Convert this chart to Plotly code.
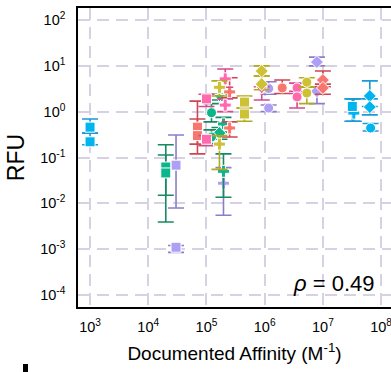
import plotly.graph_objects as go

# ---- data (affinity M^-1, RFU, error low/high) ----
cyan_x = [1e3, 1e3, 3.4e7, 3.2e7, 6.4e7, 6.4e7, 6.6e7]
cyan_y = [0.46, 0.22, 0.93, 1.3, 2.2, 1.26, 0.44]
cyan_lo = [0.34, 0.19, 0.62, 0.62, 1.3, 0.85, 0.38]
cyan_hi = [0.69, 0.34, 1.9, 1.9, 4.7, 1.9, 0.55]
cyan_sym = ["square", "square", "cross", "square", "diamond", "diamond", "circle"]

green_x = [2.0e4, 2.0e4, 1.67e5, 1.22e5, 1.96e5, 1.67e5, 1.22e5, 1.96e5]
green_y = [0.062, 0.046, 2.1, 0.95, 0.54, 0.34, 0.28, 0.05]
green_lo = [0.015, 0.0039, 1.8, 0.6, 0.36, 0.25, 0.2, 0.0136]
green_hi = [0.19, 0.113, 2.4, 1.5, 0.75, 0.45, 0.4, 0.12]
green_sym = ["square", "square", "triangle-down", "circle", "cross", "diamond", "circle", "cross"]

lav_x = [3.0e4, 3.0e4, 1.96e5, 1.17e6, 1.17e6, 7.9e6, 7.9e6]
lav_y = [0.068, 0.0011, 0.0275, 3.2, 1.2, 12.1, 2.8]
lav_lo = [0.0079, 0.00085, 0.0055, 2.4, 1.0, 10.0, 1.5]
lav_hi = [0.31, 0.0012, 0.06, 4.5, 1.4, 15.5, 3.4]
lav_sym = ["square", "square", "cross", "circle", "circle", "diamond", "diamond"]

red_x = [7.0e4, 7.0e4, 2.5e5, 2.5e5, 2.0e6, 1.0e7, 1.0e7]
red_y = [0.46, 0.3, 2.7, 0.44, 3.3, 4.9, 3.3]
red_lo = [0.12, 0.196, 2.0, 0.28, 2.5, 3.5, 2.4]
red_hi = [1.7, 0.69, 5.5, 0.6, 4.9, 7.7, 4.0]
red_sym = ["square", "square", "cross", "cross", "circle", "diamond", "diamond"]

pink_x = [1.0e5, 1.0e5, 2.1e5, 2.1e5, 3.6e6, 3.6e6, 8.9e5]
pink_y = [1.9, 0.25, 5.2, 1.39, 3.3, 2.1, 3.1]
pink_lo = [1.3, 0.18, 3.4, 1.0, 2.5, 1.2, 1.8]
pink_hi = [2.4, 0.3, 8.5, 1.9, 4.2, 2.8, 3.5]
pink_sym = ["square", "square", "cross", "cross", "circle", "circle", "triangle-down"]

olive_x = [1.67e5, 1.67e5, 4.5e5, 4.5e5, 8.9e5, 8.9e5, 5.3e6, 5.3e6]
olive_y = [3.4, 0.196, 1.62, 0.89, 7.7, 4.0, 4.4, 2.55]
olive_lo = [2.2, 0.055, 1.2, 0.62, 6.0, 3.0, 3.5, 1.5]
olive_hi = [4.7, 0.3, 2.2, 1.2, 10.0, 6.0, 5.5, 3.4]
olive_sym = ["cross", "cross", "square", "square", "diamond", "diamond", "circle", "circle"]

rho_text = "<i>ρ</i> = 0.49"
x_tickvals = [1e3, 1e4, 1e5, 1e6, 1e7, 1e8]
x_ticktext = ["10<sup>3</sup>", "10<sup>4</sup>", "10<sup>5</sup>", "10<sup>6</sup>", "10<sup>7</sup>", "10<sup>8</sup>"]
y_tickvals = [1e-4, 1e-3, 1e-2, 1e-1, 1e0, 1e1, 1e2]
y_ticktext = ["10<sup>-4</sup>", "10<sup>-3</sup>", "10<sup>-2</sup>", "10<sup>-1</sup>", "10<sup>0</sup>", "10<sup>1</sup>", "10<sup>2</sup>"]

series = [
    ("lavender", lav_x, lav_y, lav_lo, lav_hi, lav_sym, "#AE9FF5", "#8E7CCB"),
    ("green", green_x, green_y, green_lo, green_hi, green_sym, "#0DB58A", "#178A63"),
    ("red", red_x, red_y, red_lo, red_hi, red_sym, "#F8766D", "#D0454F"),
    ("pink", pink_x, pink_y, pink_lo, pink_hi, pink_sym, "#FF6AAE", "#D8488A"),
    ("olive", olive_x, olive_y, olive_lo, olive_hi, olive_sym, "#CDC234", "#B3A91E"),
    ("cyan", cyan_x, cyan_y, cyan_lo, cyan_hi, cyan_sym, "#00B4F0", "#1A9AD6"),
]

fig = go.Figure()
for name, xs, ys, lo, hi, sym, mc, ec in series:
    fig.add_trace(go.Scatter(
        x=xs, y=ys, mode="markers", name=name,
        marker=dict(symbol=sym, size=10, color=mc, line=dict(color="white", width=1)),
        error_y=dict(type="data", symmetric=False,
                     array=[h - v for h, v in zip(hi, ys)],
                     arrayminus=[v - l for v, l in zip(ys, lo)],
                     color=ec, thickness=1.6, width=8),
        showlegend=False,
    ))

grid = dict(showgrid=True, gridcolor="#D6D2E4", gridwidth=1.6, griddash="12px,7px")

fig.update_layout(
    width=391, height=372,
    margin=dict(l=78, r=0, t=8, b=65),
    plot_bgcolor="white", paper_bgcolor="white",
    font=dict(family="Liberation Sans, Arial, sans-serif", color="black"),
    xaxis=dict(type="log", range=[2.793, 8.17], tickvals=x_tickvals, ticktext=x_ticktext,
               showline=True, linecolor="black", linewidth=1.5, mirror=True,
               ticks="", ticklabelstandoff=6, tickfont=dict(size=14.5),
               ticklabeloverflow="allow",
               zeroline=False,
               title=dict(text="Documented Affinity (M<sup>-1</sup>)", font=dict(size=19), standoff=13),
               **grid),
    yaxis=dict(type="log", range=[-4.262, 2.262], tickvals=y_tickvals, ticktext=y_ticktext,
               showline=True, linecolor="black", linewidth=1.5,
               ticks="", ticklabelstandoff=8, tickfont=dict(size=14.5),
               zeroline=False,
               title=dict(text="RFU", font=dict(size=23), standoff=9),
               **grid),
)

fig.add_annotation(text=rho_text, xref="paper", yref="paper", x=(334 - 78) / 313, y=(307 - 283) / 299,
                   xanchor="center", yanchor="middle",
                   showarrow=False, font=dict(size=22, color="black"))

fig.add_shape(type="rect", xref="paper", yref="paper",
              x0=(23 - 78) / 313, x1=(28 - 78) / 313,
              y0=(307 - 380) / 299, y1=(307 - 364) / 299,
              fillcolor="black", line=dict(width=0))

fig.write_html("out.html")
